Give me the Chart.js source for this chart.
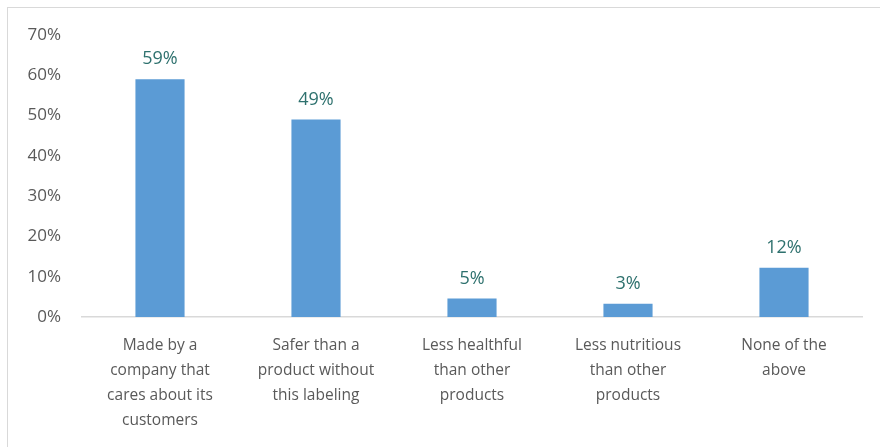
<!DOCTYPE html>
<html>
<head>
<meta charset="utf-8">
<script src="https://cdn.jsdelivr.net/npm/chart.js@4/dist/chart.umd.min.js"></script>
<style>
  html, body { margin: 0; padding: 0; background: #fff; }
  #wrap { position: relative; width: 880px; height: 447px; overflow: hidden; }
  #frame { position: absolute; left: 7px; top: 7px; width: 880px; height: 447px;
           border-left: 1px solid #d9d9d9; border-top: 1px solid #d9d9d9; box-sizing: border-box; }
  canvas { position: absolute; left: 0; top: 0; }
</style>
</head>
<body>
<div id="wrap">
  <div id="frame"></div>
  <canvas id="c" width="880" height="447"></canvas>
</div>
<script>
const categories = [
  ["Made by a", "company that", "cares about its", "customers"],
  ["Safer than a", "product without", "this labeling"],
  ["Less healthful", "than other", "products"],
  ["Less nutritious", "than other", "products"],
  ["None of the", "above"]
];
const values = [0.59, 0.49, 0.046, 0.033, 0.122];
const valueLabels = ["59%", "49%", "5%", "3%", "12%"];
const yTicks = [0, 0.1, 0.2, 0.3, 0.4, 0.5, 0.6, 0.7];

const FONT = "'Liberation Sans Narrow', 'Open Sans', sans-serif";

const labelPlugin = {
  id: 'valueLabels',
  afterDatasetsDraw(chart) {
    const ctx = chart.ctx;
    const meta = chart.getDatasetMeta(0);
    ctx.save();
    ctx.font = "18px " + FONT;
    ctx.fillStyle = "#2E716E";
    ctx.textAlign = "center";
    ctx.textBaseline = "bottom";
    meta.data.forEach((bar, i) => {
      ctx.fillText(valueLabels[i], bar.x, bar.y - 11);
    });
    ctx.restore();
  }
};

new Chart(document.getElementById('c'), {
  type: 'bar',
  data: {
    labels: categories,
    datasets: [{
      data: values,
      backgroundColor: "#5B9BD5",
      borderWidth: 0,
      categoryPercentage: 1.0,
      barPercentage: 0.315
    }]
  },
  options: {
    responsive: false,
    animation: false,
    devicePixelRatio: 1,
    layout: { padding: { left: 0, right: 18, top: 35, bottom: 6 } },
    plugins: { legend: { display: false }, title: { display: false }, tooltip: { enabled: false } },
    scales: {
      x: {
        grid: { display: false },
        border: { display: true, color: "#d9d9d9", width: 1.5 },
        ticks: { color: "#595959", font: { size: 15.5, family: FONT, lineHeight: "25px" }, padding: 8, maxRotation: 0, autoSkip: false }
      },
      y: {
        min: 0, max: 0.7,
        afterBuildTicks(scale) { scale.ticks = yTicks.map(v => ({ value: v })); },
        afterFit(scale) { scale.width = 82; },
        grid: { display: false },
        border: { display: false },
        ticks: { color: "#595959", font: { size: 17, family: FONT }, padding: 13,
                 callback: v => Math.round(v * 100) + "%" }
      }
    }
  },
  plugins: [labelPlugin]
});
</script>
</body>
</html>
